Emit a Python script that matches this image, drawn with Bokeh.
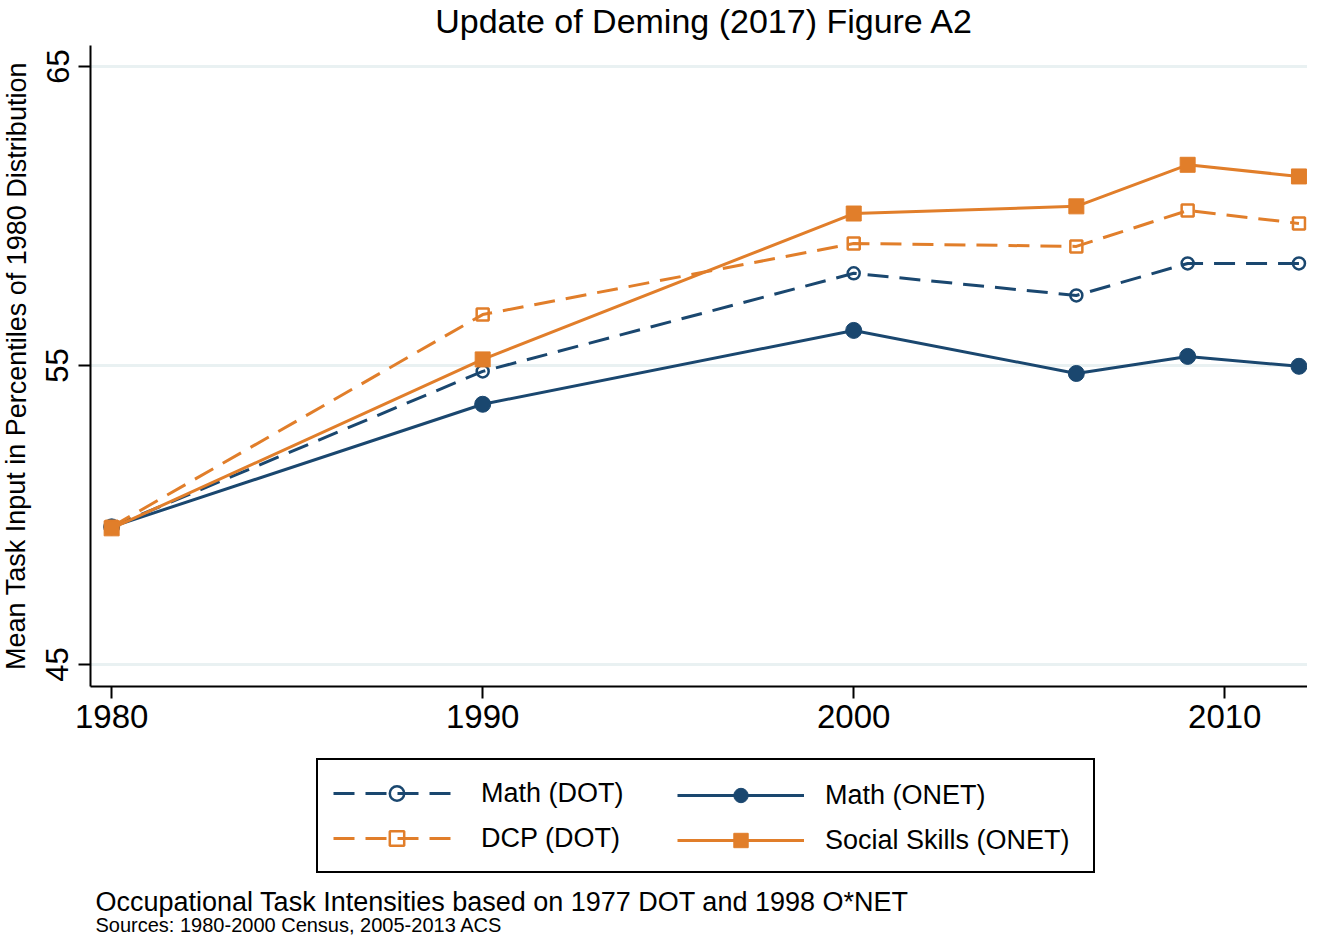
from bokeh.plotting import figure
from bokeh.models import (Range1d, FixedTicker, Legend, LegendItem, Label)
from bokeh.layouts import column, row
from bokeh.embed import file_html
from bokeh.resources import INLINE

# ---- data ----
years = [1980, 1990, 2000, 2006, 2009, 2012]
math_dot = [49.6, 54.8, 58.08, 57.34, 58.41, 58.41]
math_onet = [49.6, 53.7, 56.17, 54.73, 55.3, 54.97]
dcp_dot = [49.6, 56.7, 59.08, 58.98, 60.18, 59.75]
social_onet = [49.55, 55.2, 60.08, 60.32, 61.71, 61.32]

x_ticks = [1980, 1990, 2000, 2010]
y_ticks = [45, 55, 65]

title_text = "Update of Deming (2017) Figure A2"
y_label = "Mean Task Input in Percentiles of 1980 Distribution"
note_text = "Occupational Task Intensities based on 1977 DOT and 1998 O*NET"
source_text = "Sources: 1980-2000 Census, 2005-2013 ACS"
labels = ["Math (DOT)", "Math (ONET)", "DCP (DOT)", "Social Skills (ONET)"]

NAVY = "#1a476f"
ORANGE = "#e17e2a"
GRID = "#e9f1f2"
FONT = "Liberation Sans"

W, H = 1307, 935
TITLE_H = 45
YLAB_W = 32
MAIN_W = W - YLAB_W
MAIN_H = 705
BOT_H = H - TITLE_H - MAIN_H
LEFT = 90 - YLAB_W
BOTTOM = 64
FRAME_H = MAIN_H - BOTTOM


def blank(width, height):
    f = figure(width=width, height=height, output_backend="svg", toolbar_location=None,
               x_range=Range1d(0, 1), y_range=Range1d(0, 1),
               x_axis_type=None, y_axis_type=None, min_border=0)
    f.outline_line_color = None
    f.grid.visible = False
    return f


# ---------------- title panel ----------------
pt = blank(W, TITLE_H)
pt.add_layout(Label(x=704, y=TITLE_H - 20, x_units="screen", y_units="screen",
                    text=title_text, text_align="center", text_baseline="middle",
                    text_font=FONT, text_font_size="34px", text_color="black"))

# ---------------- main plot ----------------
p = figure(width=MAIN_W, height=MAIN_H, output_backend="svg", toolbar_location=None,
           x_range=Range1d(1979.43, 2012.23), y_range=Range1d(44.26, 65.7),
           min_border_left=LEFT, min_border_right=0, min_border_top=0,
           min_border_bottom=BOTTOM)
p.outline_line_color = None
p.background_fill_color = "white"
p.border_fill_color = "white"

p.xgrid.grid_line_color = None
p.ygrid.ticker = FixedTicker(ticks=y_ticks)
p.ygrid.grid_line_color = GRID
p.ygrid.grid_line_width = 3

for ax in (p.xaxis, p.yaxis):
    ax.axis_line_color = "black"
    ax.axis_line_width = 2
    ax.major_tick_line_color = "black"
    ax.major_tick_line_width = 2
    ax.major_tick_in = 0
    ax.major_tick_out = 12
    ax.minor_tick_line_color = None
    ax.major_label_text_font = FONT
    ax.major_label_text_color = "black"

p.xaxis.ticker = FixedTicker(ticks=x_ticks)
p.xaxis.major_label_text_font_size = "33px"
p.xaxis.major_label_standoff = 6

p.yaxis.ticker = FixedTicker(ticks=y_ticks)
p.yaxis.major_label_text_font_size = "31px"
p.yaxis.major_label_orientation = "vertical"
p.yaxis.major_label_standoff = 10

LW = 3
DASH = "21 11"
styles = [
    dict(line=dict(line_color=NAVY, line_width=LW, line_dash=DASH),
         mark=dict(marker="circle", size=12, line_color=NAVY, line_width=2.5, fill_alpha=0)),
    dict(line=dict(line_color=NAVY, line_width=LW),
         mark=dict(marker="circle", size=16, line_color=NAVY, fill_color=NAVY, line_width=1)),
    dict(line=dict(line_color=ORANGE, line_width=LW, line_dash=DASH),
         mark=dict(marker="square", size=12, line_color=ORANGE, line_width=2.5, fill_alpha=0)),
    dict(line=dict(line_color=ORANGE, line_width=LW),
         mark=dict(marker="square", size=15, line_color=ORANGE, fill_color=ORANGE, line_width=1)),
]
series = [math_dot, math_onet, dcp_dot, social_onet]
for vals, st in zip(series, styles):
    p.line(years, vals, **st["line"])
    p.scatter(years, vals, **st["mark"])

# ---------------- y-axis title panel (frame aligned with the main plot) ----------------
py = blank(YLAB_W, MAIN_H)
py.add_layout(Label(x=YLAB_W / 2, y=FRAME_H / 2, x_units="screen", y_units="screen",
                    text=y_label, angle=1.5707963, text_align="center",
                    text_baseline="middle", text_font=FONT, text_font_size="27px",
                    text_color="black"))

# ---------------- legend + notes panel ----------------
pb = blank(W, BOT_H)
# legend sample renderers: same series, lying outside this panel's visible range
rends = []
for vals, st in zip(series, styles):
    rl = pb.line(years, vals, **st["line"])
    rm = pb.scatter(years, vals, **st["mark"])
    rends.append([rl, rm])

common = dict(glyph_width=127, glyph_height=36, label_height=36, label_standoff=21,
              padding=15, spacing=9, label_text_font=FONT, label_text_font_size="27px",
              label_text_color="black", margin=0)
leg1 = Legend(items=[LegendItem(label=labels[0], renderers=rends[0]),
                     LegendItem(label=labels[2], renderers=rends[2])],
              location=(316, 62), label_width=597,
              border_line_color="black", border_line_alpha=1, border_line_width=2,
              background_fill_color="white", background_fill_alpha=1, **common)
leg2 = Legend(items=[LegendItem(label=labels[1], renderers=rends[1]),
                     LegendItem(label=labels[3], renderers=rends[3])],
              location=(662, 62), border_line_color="white", border_line_alpha=0,
              background_fill_alpha=0, **common)
pb.add_layout(leg1)
pb.add_layout(leg2)
pb.add_layout(Label(x=95, y=BOT_H - 151, x_units="screen", y_units="screen",
                    text=note_text, text_align="left", text_baseline="middle",
                    text_font=FONT, text_font_size="27px", text_color="black"))
pb.add_layout(Label(x=95, y=11, x_units="screen", y_units="screen",
                    text=source_text, text_align="left", text_baseline="middle",
                    text_font=FONT, text_font_size="20px", text_color="black"))

layout = column(pt, row(py, p, spacing=0), pb, spacing=0)
open("out.html", "w").write(file_html(layout, INLINE))
